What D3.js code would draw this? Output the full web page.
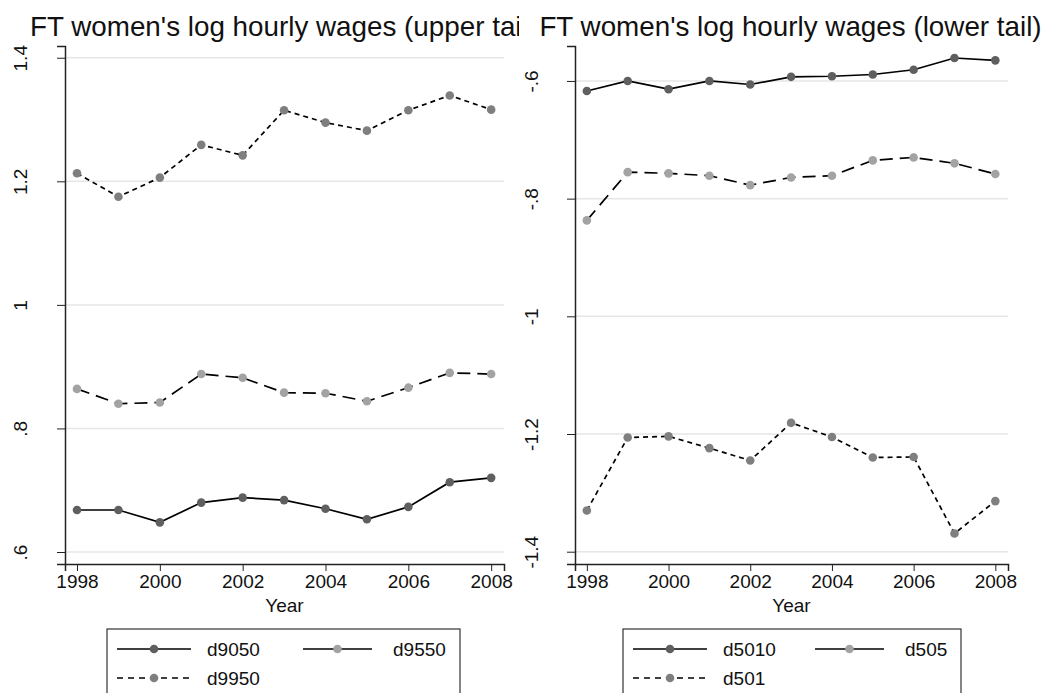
<!DOCTYPE html>
<meta charset="utf-8">
<head>
<style>
body { margin: 0; background: #fff; }
text { font-family: "Liberation Sans", Arial, sans-serif; fill: #111; }
.grid { stroke: #e6e6e6; stroke-width: 1.5px; }
.domain, .tick line { stroke: #222; }
</style>
</head>
<body>
<script src="https://d3js.org/d3.v7.min.js"></script>
<script>

// years on the x axis
var years = [1998, 1999, 2000, 2001, 2002, 2003, 2004, 2005, 2006, 2007, 2008];
var xTicks = [1998, 2000, 2002, 2004, 2006, 2008];

// upper tail series
var d9050 = [0.668, 0.668, 0.648, 0.680, 0.688, 0.684, 0.670, 0.653, 0.673, 0.713, 0.720];
var d9550 = [0.864, 0.840, 0.842, 0.888, 0.882, 0.858, 0.857, 0.844, 0.866, 0.890, 0.888];
var d9950 = [1.213, 1.175, 1.206, 1.259, 1.242, 1.315, 1.295, 1.282, 1.315, 1.339, 1.316];
var upperTicks = [0.6, 0.8, 1, 1.2, 1.4];
var upperLabels = [".6", ".8", "1", "1.2", "1.4"];

// lower tail series
var d5010 = [-0.617, -0.600, -0.614, -0.600, -0.606, -0.593, -0.592, -0.589, -0.581, -0.561, -0.565];
var d505  = [-0.837, -0.755, -0.757, -0.761, -0.777, -0.764, -0.761, -0.735, -0.730, -0.740, -0.758];
var d501  = [-1.330, -1.206, -1.204, -1.224, -1.245, -1.181, -1.205, -1.240, -1.239, -1.369, -1.314];
var lowerTicks = [-1.4, -1.2, -1, -0.8, -0.6];
var lowerLabels = ["-1.4", "-1.2", "-1", "-.8", "-.6"];

var W = 1049, H = 693;
var svg = d3.select("body").append("svg")
    .attr("width", W)
    .attr("height", H);

// line styles: solid, long dash, short dash ; marker greys
var styles = [
  {dash: null,   dot: "#5f5f5f"},
  {dash: "13,7", dot: "#a3a3a3"},
  {dash: "5,4",  dot: "#7f7f7f"}
];

function panel(opt) {
  var g = svg.append("g");

  var x = d3.scaleLinear().domain([1997.71, 2008.31]).range([opt.left, opt.right]);
  var y = d3.scaleLinear().domain(opt.ydom).range([564, 46]);

  // clip so the long title gets cut like in the original
  var cid = "clip" + opt.id;
  svg.append("clipPath").attr("id", cid)
    .append("rect").attr("x", opt.clipX).attr("y", 0).attr("width", opt.clipW).attr("height", H);

  g.append("text")
    .attr("clip-path", "url(#" + cid + ")")
    .attr("x", (opt.left + opt.right) / 2 - 1)
    .attr("y", 36)
    .attr("text-anchor", "middle")
    .style("font-size", "27.8px")
    .text(opt.title);

  // gridlines
  g.selectAll(".grid").data(opt.ticks).enter().append("line")
    .attr("class", "grid")
    .attr("x1", opt.left + 1).attr("x2", opt.right)
    .attr("y1", function(d) { return y(d); })
    .attr("y2", function(d) { return y(d); });

  // y axis
  var ya = g.append("g")
    .attr("transform", "translate(" + opt.left + ",0)")
    .call(d3.axisLeft(y).tickValues(opt.ticks).tickSizeOuter(0).tickSize(8)
      .tickFormat(function(d, i) { return opt.labels[i]; }));
  ya.select(".domain").style("stroke-width", "1.5px");
  ya.selectAll(".tick text")
    .attr("x", null).attr("dy", null)
    .attr("transform", "translate(" + (opt.labX - opt.left) + ",0) rotate(-90)")
    .attr("text-anchor", "middle")
    .style("font-size", "19px")
    .style("font-family", "Liberation Sans, Arial, sans-serif");

  // x axis
  var xa = g.append("g")
    .attr("transform", "translate(0,564)")
    .call(d3.axisBottom(x).tickValues(xTicks).tickFormat(d3.format("d")).tickSizeOuter(0).tickSize(7));
  xa.select(".domain").style("stroke-width", "1.5px");
  xa.selectAll(".tick text")
    .attr("y", 11)
    .style("font-size", "19px")
    .style("font-family", "Liberation Sans, Arial, sans-serif");

  g.append("text")
    .attr("x", (opt.left + opt.right) / 2)
    .attr("y", 612)
    .attr("text-anchor", "middle")
    .style("font-size", "19px")
    .text("Year");

  var line = d3.line()
    .x(function(d, i) { return x(years[i]); })
    .y(function(d) { return y(d); });

  opt.series.forEach(function(s, k) {
    g.append("path")
      .datum(s)
      .attr("d", line)
      .attr("fill", "none")
      .attr("stroke", "#000")
      .attr("stroke-width", 1.7)
      .attr("stroke-dasharray", styles[k].dash);
    g.selectAll(".dot" + k).data(s).enter().append("circle")
      .attr("cx", function(d, i) { return x(years[i]); })
      .attr("cy", function(d) { return y(d); })
      .attr("r", 4.3)
      .attr("fill", styles[k].dot);
  });

  // legend box (cut off by the bottom edge)
  var lx = opt.legX, ly = 629;
  g.append("rect")
    .attr("x", lx).attr("y", ly)
    .attr("width", opt.legW).attr("height", 80)
    .attr("fill", "#fff")
    .attr("stroke", "#333")
    .attr("stroke-width", 1.2);

  var slots = [
    {k0: 10, k1: 84, t: 100, y: 649},
    {k0: opt.col2, k1: opt.col2 + 69, t: opt.col2 + 90, y: 649},
    {k0: 10, k1: 84, t: 100, y: 678}
  ];
  opt.names.forEach(function(name, k) {
    var s = slots[k];
    g.append("line")
      .attr("x1", lx + s.k0).attr("x2", lx + s.k1)
      .attr("y1", s.y).attr("y2", s.y)
      .attr("stroke", "#000")
      .attr("stroke-width", 1.7)
      .attr("stroke-dasharray", k == 2 ? "6,5" : null);
    g.append("circle")
      .attr("cx", lx + (s.k0 + s.k1) / 2).attr("cy", s.y)
      .attr("r", 4.3)
      .attr("fill", styles[k].dot);
    g.append("text")
      .attr("x", lx + s.t).attr("y", s.y + 7)
      .style("font-size", "19px")
      .text(name);
  });
}

panel({
  id: 1, left: 65, right: 504, ydom: [0.5806, 1.419],
  ticks: upperTicks, labels: upperLabels, labX: 27,
  title: "FT women's log hourly wages (upper tail)",
  clipX: 0, clipW: 519,
  series: [d9050, d9550, d9950], names: ["d9050", "d9550", "d9950"],
  legX: 107, legW: 353, col2: 196
});

panel({
  id: 2, left: 575, right: 1008, ydom: [-1.4209, -0.5406],
  ticks: lowerTicks, labels: lowerLabels, labX: 538,
  title: "FT women's log hourly wages (lower tail)",
  clipX: 521, clipW: 528,
  series: [d5010, d505, d501], names: ["d5010", "d505", "d501"],
  legX: 623, legW: 338, col2: 192
});

</script>
</body>
